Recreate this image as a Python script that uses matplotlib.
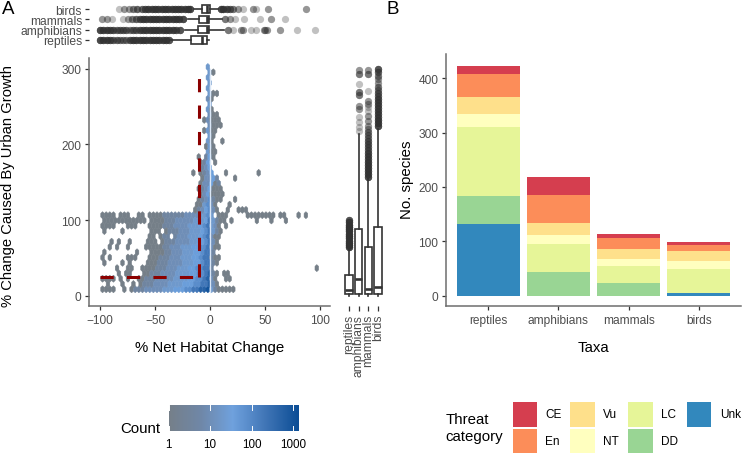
import numpy as np
import matplotlib
matplotlib.use("Agg")
import matplotlib.pyplot as plt
from matplotlib.colors import LinearSegmentedColormap, LogNorm
from matplotlib.patches import Rectangle

plt.rcParams['font.family'] = ['Liberation Sans', 'DejaVu Sans']

W, H = 742, 456
TXT = '#4d4d4d'
DARK = '#333333'
AXC = '#6e6e6e'

# ---------------- data ----------------
taxa_side = ['reptiles', 'amphibians', 'mammals', 'birds']

# top box plot: net habitat change
top_q1 = [-17, -11, -10, -7.6]
top_med = [-7, -3, -3, -3]
top_q3 = [-3, -0.6, -0.6, 0]
top_lo = [-36, -23, -20, -15]
top_hi = [-0.6, 13, 10.6, 7.6]
top_out_reptiles = [-100, -97, -94, -91, -88, -85, -82, -79, -76, -73, -70, -67, -64, -61, -58, -55, -52, -49, -46, -43, -40, -37]
top_n_reptiles = [6, 6, 6, 5, 4, 4, 3, 3, 3, 5, 6, 6, 6, 6, 6, 6, 6, 6, 6, 6, 6, 5]
top_out_amphibians = [-100, -97, -94, -91, -88, -85, -82, -79, -76, -73, -70, -67, -64, -61, -58, -55, -52, -49, -46, -43, -40, -37, -34, -31, -27, 16, 21, 28, 30, 37, 42, 49, 50, 52, 64, 79, 95]
top_n_amphibians = [6, 6, 6, 5, 5, 4, 4, 4, 4, 3, 4, 4, 5, 5, 6, 6, 6, 6, 6, 6, 6, 6, 6, 5, 5, 3, 1, 2, 2, 1, 1, 2, 2, 2, 2, 1, 1]
top_out_mammals = [-98, -94, -89, -79, -75, -71, -67, -64, -61, -58, -55, -52, -49, -46, -43, -40, -37, -34, -31, -28, -25, 14, 18, 23, 31, 45, 55, 68]
top_n_mammals = [2, 2, 1, 1, 2, 3, 4, 5, 6, 6, 6, 6, 6, 6, 6, 6, 6, 6, 6, 6, 6, 3, 2, 1, 1, 1, 2, 1]
top_out_birds = [-83, -78, -74, -70, -66, -62, -59, -56, -53, -50, -47, -44, -41, -38, -35, -32, -29, -26, -23, -20, -18, 10, 12, 15, 18, 21, 25, 30, 39, 42, 53, 87]
top_n_birds = [1, 2, 2, 3, 4, 4, 5, 6, 6, 6, 6, 6, 6, 6, 6, 6, 6, 6, 6, 6, 6, 6, 6, 5, 4, 3, 2, 1, 2, 1, 2, 2]

# right box plot: change caused by urban growth
side_q1 = [2, 2, 2, 2]
side_med = [8, 22, 9, 11.6]
side_q3 = [27, 88, 64, 91]
side_lo = [0, 0, 0, 0]
side_hi = [62, 214, 154, 220]
side_out_reptiles = [64, 67, 70, 73, 76, 79, 82, 85, 88, 91, 94, 97, 100]
side_n_reptiles = [7, 7, 7, 7, 7, 7, 7, 7, 7, 7, 7, 6, 5]
side_out_amphibians = [218, 223, 230, 236, 247, 251, 266, 269, 280, 293, 298]
side_n_amphibians = [1, 1, 1, 1, 2, 2, 3, 3, 1, 3, 2]
side_out_mammals = [157, 161, 165, 169, 173, 177, 181, 185, 189, 193, 197, 201, 205, 209, 213, 217, 221, 225, 231, 238, 244, 250, 254, 258, 271, 293, 298]
side_n_mammals = [6, 6, 6, 6, 6, 6, 5, 5, 5, 4, 4, 4, 4, 3, 3, 3, 2, 2, 2, 2, 1, 1, 2, 2, 1, 3, 2]
side_out_birds = [224, 228, 232, 236, 240, 244, 248, 252, 256, 260, 264, 268, 272, 276, 281, 286, 291, 296, 300]
side_n_birds = [6, 6, 6, 5, 5, 5, 5, 5, 5, 5, 4, 4, 3, 3, 2, 2, 3, 4, 5]

# hexagon cells: (row, first column, log-count classes of consecutive columns)
hex_class_counts = [1, 4, 10, 20, 40, 80, 200, 500, 1000, 1300]
hex_runs = [
 (42,30,"3"),
 (41,30,"30"),
 (40,30,"3"),(39,30,"3"),(38,30,"3"),
 (37,30,"300"),(36,30,"20"),(35,30,"3"),(34,30,"30"),
 (33,30,"200"),(32,29,"02000"),(31,30,"2000"),(30,29,"0300"),
 (29,30,"30"),(28,30,"30"),(28,34,"0"),(27,29,"030"),(26,30,"300"),
 (25,27,"0"),(25,29,"140"),(24,28,"014"),(24,32,"0"),(23,28,"124"),
 (22,26,"0"),(22,28,"0124"),(22,35,"0"),(22,44,"0"),
 (21,28,"02241"),(21,37,"0"),(20,28,"022401"),
 (19,27,"0124000"),(18,28,"0240000"),
 (17,27,"0125100"),(17,37,"0"),(16,27,"003520"),(16,36,"0"),
 (15,26,"0124520"),(15,35,"0"),(15,38,"000"),
 (14,1,"0000"),(14,6,"000"),(14,11,"00"),(14,14,"0000111111"),(14,24,"222233"),(14,30,"53"),(14,33,"000"),
 (14,41,"0000"),(14,45,"0000"),(14,50,"00"),(14,55,"0"),(14,57,"0"),
 (13,1,"00000"),(13,6,"0000000"),(13,14,"000011"),(13,20,"12222233"),(13,28,"34"),(13,30,"63100"),(13,36,"0"),(13,43,"0"),(13,47,"0"),(13,51,"0"),
 (12,1,"0000"),(12,8,"000"),(12,14,"00"),(12,16,"00111"),(12,21,"2222"),(12,25,"3334"),(12,29,"56320"),(12,35,"0"),
 (11,1,"0"),(11,6,"0"),(11,14,"0"),(11,15,"00"),(11,18,"0111"),(11,22,"22233"),(11,27,"34"),(11,29,"56310"),
 (10,14,"00"),(10,17,"011"),(10,21,"122"),(10,24,"2333"),(10,28,"45"),(10,30,"6200"),
 (9,3,"0"),(9,5,"0"),(9,8,"0"),(9,13,"000"),(9,17,"011"),(9,20,"12222"),(9,25,"3344"),(9,29,"5620"),
 (8,3,"0"),(8,5,"0"),(8,8,"0"),(8,13,"0000"),(8,17,"011"),(8,20,"2223"),(8,24,"33445"),(8,29,"56200"),
 (7,1,"0"),(7,10,"0"),(7,14,"0000"),(7,18,"11"),(7,20,"2223"),(7,24,"33445"),(7,29,"661"),
 (6,1,"0"),(6,3,"0"),(6,8,"000"),(6,14,"00"),(6,16,"0111"),(6,20,"2223"),(6,24,"3344"),(6,28,"56"),(6,30,"6100"),
 (5,1,"0"),(5,6,"0"),(5,8,"0"),(5,13,"00"),(5,15,"0111"),(5,19,"22223"),(5,24,"33445"),(5,29,"6610"),
 (4,5,"0"),(4,8,"00"),(4,12,"000"),(4,15,"011"),(4,18,"12223"),(4,23,"33445"),(4,28,"5661"),(4,60,"0"),
 (3,5,"0"),(3,7,"00"),(3,12,"0011"),(3,16,"1222"),(3,20,"2333"),(3,24,"34455"),(3,29,"6710"),(3,34,"00"),
 (2,1,"0000"),(2,6,"0"),(2,8,"0"),(2,11,"00111"),(2,16,"22222"),(2,21,"33334"),(2,26,"4556"),(2,30,"720"),(2,35,"00"),
 (1,2,"0"),(1,6,"0"),(1,9,"0"),(1,11,"01112"),(1,16,"22233"),(1,21,"33444"),(1,26,"55667"),(1,31,"20"),
 (0,1,"0000"),(0,7,"0"),(0,9,"011122"),(0,15,"222333"),(0,21,"444556"),(0,27,"6778"),(0,31,"3100000"),
]

# stacked bars
bar_taxa = ['reptiles', 'amphibians', 'mammals', 'birds']
threat_names = ['CE', 'En', 'Vu', 'NT', 'LC', 'DD', 'Unk']
threat_colors = ['#D53E4F', '#FC8D59', '#FEE08B', '#FFFFBF', '#E6F598', '#99D594', '#3288BD']
n_unk = [131, 0, 0, 5]
n_dd = [52, 44, 23, 0]
n_lc = [127, 51, 31, 44]
n_nt = [24, 17, 13, 15]
n_vu = [32, 22, 19, 18]
n_en = [42, 52, 21, 12]
n_ce = [15, 32, 6, 4]

# ---------------- helpers ----------------
fig = plt.figure(figsize=(W / 100, H / 100), dpi=100)


def ax_px(l, t, r, b):
    return fig.add_axes([l / W, 1 - b / H, (r - l) / W, (b - t) / H])


def ftext(x, y, s, **kw):
    return fig.text(x / W, 1 - y / H, s, **kw)


def style(ax, left=True, bottom=True):
    for s in ['top', 'right']:
        ax.spines[s].set_visible(False)
    ax.spines['left'].set_visible(left)
    ax.spines['bottom'].set_visible(bottom)
    for s in ['left', 'bottom']:
        ax.spines[s].set_color(AXC)
        ax.spines[s].set_linewidth(1.1)
    ax.tick_params(colors=DARK, labelcolor=TXT, labelsize=8.6, length=2.6, width=0.9, pad=3)


XLIM = (-110, 109)
YLIM = (-13.6, 314.4)

# ---------------- main hexbin ----------------
ax = ax_px(89, 59, 330, 307)
style(ax)
SX, SY = 3.3, 14.0
hex_x, hex_y, hex_n = [], [], []
for row, start, levels in hex_runs:
    for k, ch in enumerate(levels):
        col = start + k
        hex_x.append(-101 + SX * col + (SX / 2 if row % 2 else 0))
        hex_y.append(8.5 + SY / 2 * row)
        hex_n.append(hex_class_counts[int(ch)])
cmap = LinearSegmentedColormap.from_list('cnt', [(0, '#757f88'), (0.25, '#6f87a8'), (0.49, '#6fa1dd'),
                                                 (0.75, '#3f74b5'), (1, '#0b4d95')])
norm = LogNorm(1, 1400)
hb = ax.hexbin(hex_x, hex_y, C=hex_n, reduce_C_function=np.sum, gridsize=(62, 21),
               extent=(-101, -101 + SX * 62, 8.5, 8.5 + SY * 21), cmap=cmap, norm=norm,
               linewidths=0.35, edgecolors='face', zorder=2)
ax.plot([0, 0], [5, 300], color='#dbe7f6', lw=1.0, zorder=3)
ax.plot([-100, -10], [25, 25], color='#8b0000', lw=2.2, ls=(0, (4.33, 4.33)), dash_capstyle='butt', zorder=4)
ax.plot([-10, -10], [25, 300], color='#8b0000', lw=2.2, ls=(0, (4.33, 4.33)), dash_capstyle='butt', zorder=4)
ax.set_xlim(*XLIM)
ax.set_ylim(*YLIM)
ax.set_xticks([-100, -50, 0, 50, 100])
ax.set_yticks([0, 100, 200, 300])
ax.set_xlabel('% Net Habitat Change', fontsize=10.8, color='black', labelpad=10)
ftext(8, 186, '% Change Caused By Urban Growth', fontsize=10.6, color='black', rotation=90,
      va='center', ha='center')

# ---------------- box plots ----------------
flier = dict(marker='o', markerfacecolor=DARK, markeredgecolor='none', markersize=5.2, alpha=0.3)
lineprops = dict(color=DARK, linewidth=1.2)
medprops = dict(color=DARK, linewidth=1.9)
boxprops = dict(edgecolor=DARK, facecolor='white', linewidth=1.2)


def stats(names, lo, q1, med, q3, hi, outs, ns):
    res = []
    for i, nm in enumerate(names):
        res.append(dict(label=nm, whislo=lo[i], q1=q1[i], med=med[i], q3=q3[i], whishi=hi[i],
                        fliers=np.repeat(outs[i], ns[i])))
    return res


axt = ax_px(89, 3, 330, 48)
style(axt, left=False, bottom=False)
axt.bxp(stats(taxa_side, top_lo, top_q1, top_med, top_q3, top_hi,
              [top_out_reptiles, top_out_amphibians, top_out_mammals, top_out_birds],
              [top_n_reptiles, top_n_amphibians, top_n_mammals, top_n_birds]),
        orientation='horizontal', widths=0.7, patch_artist=True, showcaps=False,
        flierprops=flier, whiskerprops=lineprops, medianprops=medprops, boxprops=boxprops)
axt.set_xlim(*XLIM)
axt.set_ylim(0.322, 4.678)
axt.set_xticks([])
axt.tick_params(axis='y', length=3, labelsize=8.7, pad=2)
axt.patch.set_alpha(0)

axr = ax_px(338, 59, 390, 307)
style(axr, left=False, bottom=False)
axr.bxp(stats(taxa_side, side_lo, side_q1, side_med, side_q3, side_hi,
              [side_out_reptiles, side_out_amphibians, side_out_mammals, side_out_birds],
              [side_n_reptiles, side_n_amphibians, side_n_mammals, side_n_birds]),
        orientation='vertical', widths=0.75, patch_artist=True, showcaps=False,
        flierprops=flier, whiskerprops=lineprops, medianprops=medprops, boxprops=boxprops)
axr.set_ylim(*YLIM)
axr.set_xlim(1 - 11 / 9.67, 4 + 12 / 9.67)
axr.set_yticks([])
axr.tick_params(axis='x', labelrotation=90, length=3.5, pad=2, labelsize=8.7)
axr.patch.set_alpha(0)

# ---------------- stacked bars ----------------
axb = ax_px(446, 55, 741, 307)
style(axb)
pos = np.arange(1, 5)
bottom = np.zeros(4)
series = [n_unk, n_dd, n_lc, n_nt, n_vu, n_en, n_ce]
for vals, col in zip(series, threat_colors[::-1]):
    axb.bar(pos, vals, bottom=bottom, width=0.893, color=col, linewidth=0, zorder=2)
    bottom += np.array(vals)
axb.set_xlim(0.4, 4.6)
axb.set_ylim(-19, 444.7)
axb.set_xticks(pos, bar_taxa)
axb.set_yticks([0, 100, 200, 300, 400])
axb.set_xlabel('Taxa', fontsize=10.8, color='black', labelpad=10)
ftext(407, 180, 'No. species', fontsize=10.8, color='black', rotation=90, va='center', ha='center')

# ---------------- colour bar ----------------
cax = ax_px(168.7, 406, 299, 432)
cb = fig.colorbar(hb, cax=cax, orientation='horizontal')
cb.outline.set_visible(False)
cb.set_ticks([1, 10, 100, 1000], labels=['1', '10', '100', '1000'])
cb.minorticks_off()
cax.tick_params(axis='x', length=0, labelsize=8.4, labelcolor='black', pad=5)
for v in [1, 10, 100, 1000]:
    cax.plot([v, v], [0, 0.2], color='white', lw=0.7, transform=cax.get_xaxis_transform())
    cax.plot([v, v], [0.8, 1], color='white', lw=0.7, transform=cax.get_xaxis_transform())
ftext(120.5, 429, 'Count', fontsize=10.8, va='center', ha='left', color='black')

# ---------------- threat legend ----------------
key_x = [512.7, 512.7, 570, 570, 628, 628, 686.7]
key_y = [403, 429.5, 403, 429.5, 403, 429.5, 403]
lab_x = [545, 545, 603, 603, 661, 661, 720]
for nm, col, kx, ky, lx in zip(threat_names, threat_colors, key_x, key_y, lab_x):
    fig.add_artist(Rectangle((kx / W, 1 - (ky + 24.5) / H), 24.5 / W, 24.5 / H, transform=fig.transFigure,
                             facecolor=col, edgecolor='none'))
    ftext(lx, ky + 12.5, nm, fontsize=8.5, va='center', ha='left', color='black')
ftext(445.5, 420.5, 'Threat', fontsize=10.8, va='center', ha='left', color='black')
ftext(445.5, 437.5, 'category', fontsize=10.8, va='center', ha='left', color='black')

# ---------------- panel tags ----------------
ftext(2, 9.5, 'A', fontsize=13.5, va='center', ha='left', color='black')
ftext(386, 9.5, 'B', fontsize=13.5, va='center', ha='left', color='black')

fig.savefig('out.png', dpi=100)
